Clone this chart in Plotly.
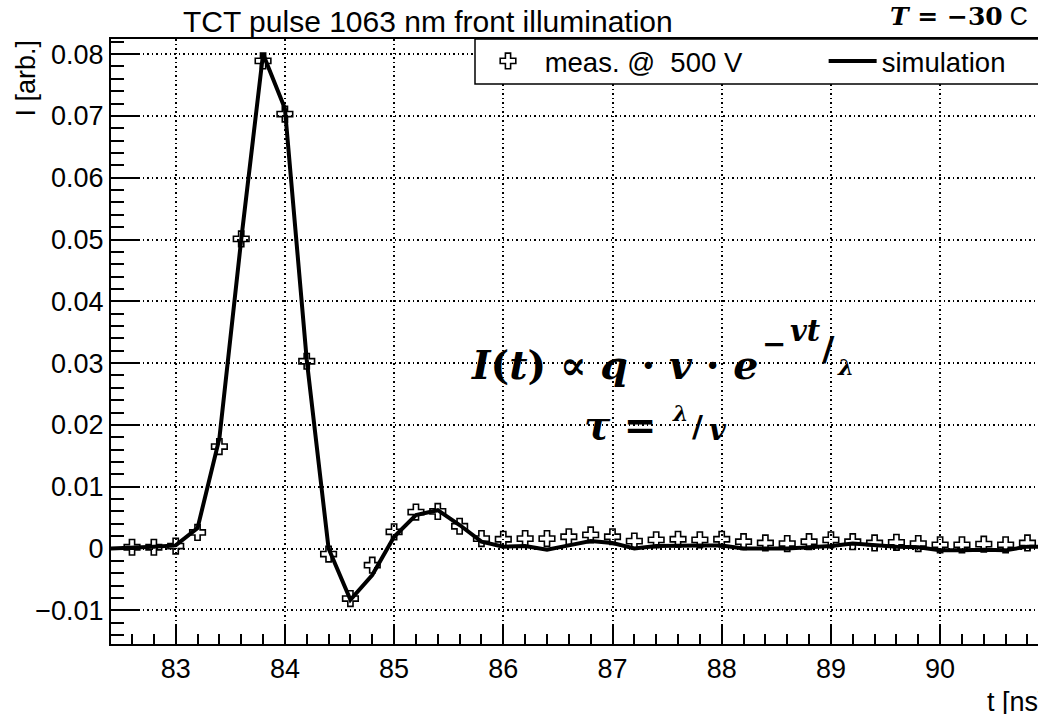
import plotly.graph_objects as go

# ---------------- data ----------------
t_meas = [82.6, 82.8, 83.0, 83.2, 83.4, 83.6, 83.8, 84.0, 84.2, 84.4, 84.6, 84.8,
          85.0, 85.2, 85.4, 85.6, 85.8, 86.0, 86.2, 86.4, 86.6, 86.8, 87.0, 87.2,
          87.4, 87.6, 87.8, 88.0, 88.2, 88.4, 88.6, 88.8, 89.0, 89.2, 89.4, 89.6,
          89.8, 90.0, 90.2, 90.4, 90.6, 90.8]
I_meas = [0.0002, 0.0002, 0.0004, 0.0026, 0.0165, 0.0501, 0.0789, 0.0703, 0.0303, -0.0009,
          -0.0081, -0.0027, 0.0027, 0.0059, 0.0060, 0.0036, 0.0016, 0.0015, 0.0016, 0.0016,
          0.0019, 0.0022, 0.0019, 0.0012, 0.0014, 0.0015, 0.0014, 0.0015, 0.0011, 0.0009,
          0.0008, 0.0011, 0.0014, 0.0011, 0.0009, 0.0010, 0.0008, 0.0006, 0.0006, 0.0007,
          0.0006, 0.0009]

t_sim = [82.4, 82.6, 82.8, 83.0, 83.2, 83.4, 83.6, 83.8, 84.0, 84.2, 84.4, 84.6, 84.8,
         85.0, 85.2, 85.4, 85.6, 85.8, 86.0, 86.2, 86.4, 86.6, 86.8, 87.0, 87.2,
         87.4, 87.6, 87.8, 88.0, 88.2, 88.4, 88.6, 88.8, 89.0, 89.2, 89.4, 89.6,
         89.8, 90.0, 90.2, 90.4, 90.6, 90.8, 91.0]
I_sim = [0.0000, 0.0001, 0.0003, 0.0005, 0.0033, 0.0178, 0.0500, 0.0800, 0.0712, 0.0305,
         0.0000, -0.0083, -0.0043, 0.0019, 0.0054, 0.0062, 0.0038, 0.0011, 0.0003, 0.0004,
         -0.0002, 0.0005, 0.0012, 0.0009, 0.0000, 0.0004, 0.0005, 0.0005, 0.0005, 0.0000,
         0.0000, 0.0000, 0.0002, 0.0004, 0.0008, 0.0005, 0.0003, 0.0002, -0.0003, -0.0003,
         -0.0002, -0.0003, 0.0003, 0.0003]

x_ticks = [83, 84, 85, 86, 87, 88, 89, 90]
y_ticks = [-0.01, 0, 0.01, 0.02, 0.03, 0.04, 0.05, 0.06, 0.07, 0.08]

meas_label = "meas. @ \u00a0500 V"
sim_label = "simulation"
title_text = "TCT pulse 1063 nm front illumination"

# ---------------- layout geometry (pixels) ----------------
W, H = 1038, 714
L, R, T, B = 111, 1038, 39, 644
X_RANGE = [82.4075, 82.4075 + (R - L) / 109.2]
Y_RANGE = [-(B - 548.5) / 6180.0, (548.5 - T) / 6180.0]


def px(x):
    return (x - L) / (R - L)


def py(y):
    return (B - y) / (B - T)


SANS = "Liberation Sans, Arial, sans-serif"
SERIF = "DejaVu Serif, serif"
NB = "\u00a0"

fig = go.Figure()
fig.add_trace(go.Scatter(
    x=t_sim, y=I_sim, mode="lines", name=sim_label, legendrank=2,
    line=dict(color="black", width=4)))
fig.add_trace(go.Scatter(
    x=t_meas, y=I_meas, mode="markers", name=NB + meas_label + NB * 10, legendrank=1,
    marker=dict(symbol="cross-open", size=13, color="black",
                line=dict(color="black", width=1.6))))

grid = dict(showgrid=True, gridcolor="black", gridwidth=1.5, griddash="1.5px,3px")

fig.update_xaxes(range=X_RANGE, tickvals=x_ticks, ticks="inside", ticklen=19,
                 tickwidth=1.5, tickcolor="black", showline=True, linewidth=2,
                 linecolor="black", mirror=True, zeroline=False,
                 tickfont=dict(family=SANS, size=27, color="black"),
                 minor=dict(dtick=0.2, tick0=83, ticks="inside", ticklen=10,
                            tickwidth=1.5, tickcolor="black", showgrid=False),
                 **grid)
fig.update_yaxes(range=Y_RANGE, tickvals=y_ticks, ticks="inside", ticklen=27,
                 tickwidth=1.5, tickcolor="black", showline=True, linewidth=2,
                 linecolor="black", mirror=False, zeroline=False,
                 tickfont=dict(family=SANS, size=27, color="black"),
                 minor=dict(dtick=0.002, tick0=0, ticks="inside", ticklen=13,
                            tickwidth=1.5, tickcolor="black", showgrid=False),
                 **grid)

annotations = [
    dict(text=title_text, x=px(428), y=py(22), xanchor="center", yanchor="middle",
         font=dict(family=SANS, size=30, color="black")),
    dict(text="<b><i>T</i> = −30</b><span style='font-family:Liberation Sans'> C</span>",
         x=px(1030), y=py(17), xanchor="right", yanchor="middle",
         font=dict(family=SERIF, size=25, color="black")),
    dict(text="I [arb.]", x=px(25), y=py(38), xanchor="center", yanchor="top",
         textangle=-90, font=dict(family=SANS, size=27, color="black")),
    dict(text="t [ns]", x=px(985), y=py(702), xanchor="left", yanchor="middle",
         font=dict(family=SANS, size=27, color="black")),
    # formula line 1
    dict(text="<b><i>I</i>(<i>t</i>) ∝ <i>q</i> · <i>v</i> · <i>e</i></b>",
         x=px(469), y=py(365), xanchor="left", yanchor="middle",
         font=dict(family=SERIF, size=39.5, color="black")),
    dict(text="<b>−</b>", x=px(774), y=py(344), xanchor="center", yanchor="middle",
         font=dict(family=SERIF, size=29, color="black")),
    dict(text="<b><i>vt</i></b>", x=px(805), y=py(331), xanchor="center", yanchor="middle",
         font=dict(family=SERIF, size=29, color="black")),
    dict(text="<b>/</b>", x=px(828), y=py(349), xanchor="center", yanchor="middle",
         font=dict(family=SERIF, size=34, color="black")),
    dict(text="<b><i>λ</i></b>", x=px(845), y=py(366), xanchor="center", yanchor="middle",
         font=dict(family=SERIF, size=23, color="black")),
    # formula line 2
    dict(text="<b><i>τ</i> =</b>", x=px(582), y=py(425), xanchor="left", yanchor="middle",
         font=dict(family=SERIF, size=39, color="black")),
    dict(text="<b><i>λ</i></b>", x=px(680), y=py(413), xanchor="center", yanchor="middle",
         font=dict(family=SERIF, size=22, color="black")),
    dict(text="<b>/</b>", x=px(697), y=py(427), xanchor="center", yanchor="middle",
         font=dict(family=SERIF, size=30, color="black")),
    dict(text="<b><i>v</i></b>", x=px(718), y=py(430), xanchor="center", yanchor="middle",
         font=dict(family=SERIF, size=29, color="black")),
]
for a in annotations:
    a.update(xref="paper", yref="paper", showarrow=False)

shapes = [dict(type="rect", xref="paper", yref="paper", x0=px(475), x1=px(1060),
               y0=py(84), y1=py(39), line=dict(color="black", width=1.5),
               fillcolor="white", layer="above")]

fig.update_layout(
    width=W, height=H, margin=dict(l=L, r=W - R, t=T, b=H - B),
    paper_bgcolor="white", plot_bgcolor="white",
    annotations=annotations, shapes=shapes,
    legend=dict(orientation="h", x=px(479), y=py(61), xanchor="left", yanchor="middle",
                bgcolor="rgba(0,0,0,0)", borderwidth=0, itemwidth=48,
                font=dict(family=SANS, size=27.5, color="black")),
    showlegend=True,
)

fig.write_html("out.html", config={"displayModeBar": False})
